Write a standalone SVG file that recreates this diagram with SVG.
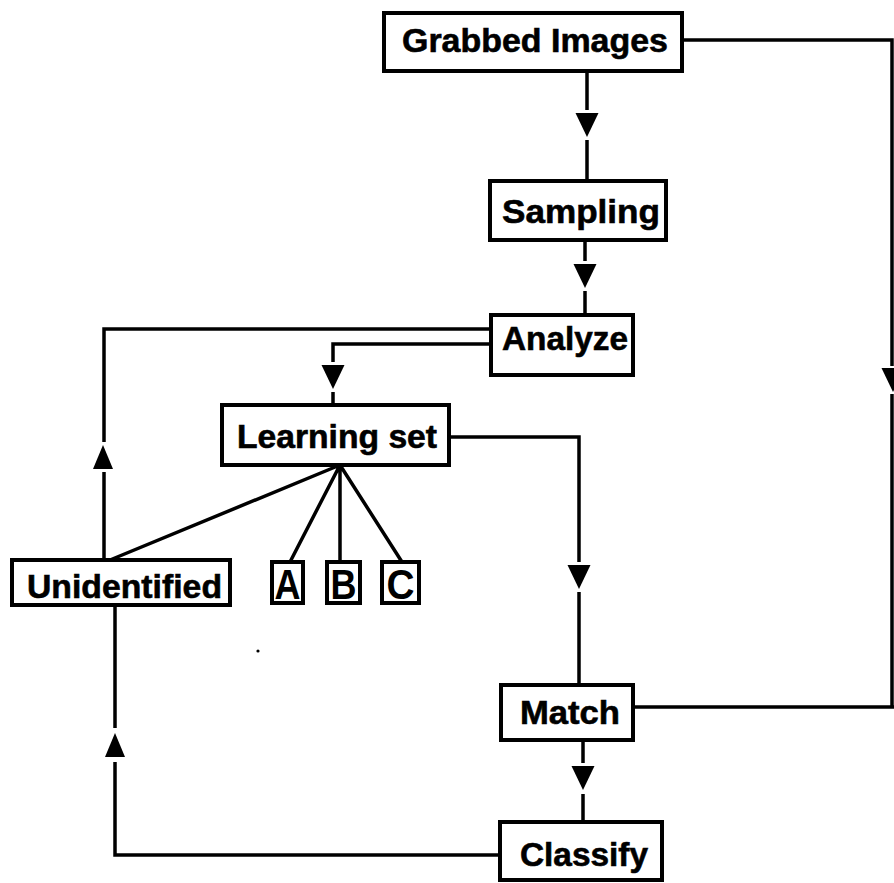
<svg xmlns="http://www.w3.org/2000/svg" xmlns:xlink="http://www.w3.org/1999/xlink" width="894" height="883" viewBox="0 0 894 883">
<style>
.box{fill:#fff;stroke:#000;stroke-width:4}
.lbl{font-family:"Liberation Sans",Arial,Helvetica,sans-serif;font-weight:bold;font-size:33px;text-anchor:middle;fill:#000;stroke:#000;stroke-width:0.6}
.let{font-family:"Liberation Sans",Arial,Helvetica,sans-serif;font-weight:bold;font-size:42px;text-anchor:middle;fill:#000}
.ln{stroke:#000;stroke-width:3.5;fill:none}
.ah{fill:#000}
</style>
<defs>
<path id="down" d="M-11.5,0 L11.5,0 L0,24 Z"/>
<path id="up" d="M0,0 L10,24 L-10,24 Z"/>
</defs>
<rect width="894" height="883" fill="#fff"/>
<g id="connectors">
<path class="ln" d="M587,71 V110 M587,140 V181"/>
<use href="#down" class="ah" x="587" y="113"/>
<path class="ln" d="M585,240 V261 M585,291 V315"/>
<use href="#down" class="ah" x="585" y="264"/>
<path class="ln" d="M491,329 H104 V442 M104,472 V560"/>
<use href="#up" class="ah" x="103" y="445"/>
<path class="ln" d="M491,344 H333 V362 M333,392 V405"/>
<use href="#down" class="ah" x="333" y="365"/>
<path class="ln" d="M449,437 H579 V562 M579,592 V685"/>
<use href="#down" class="ah" x="579" y="565"/>
<path class="ln" d="M340,465 L110,560 M340,465 L290,562 M340,465 L340,562 M340,465 L402,562"/>
<path class="ln" d="M583,740 V763 M583,794 V822"/>
<use href="#down" class="ah" x="583" y="766"/>
<path class="ln" d="M500,855 H115 V762 M115,728 V605"/>
<use href="#up" class="ah" x="115" y="733"/>
<path class="ln" d="M682,40 H892 V366 M892,394 V707 M633,707 H894"/>
<use href="#down" class="ah" x="893" y="368"/>
<circle cx="258" cy="651" r="1.6" fill="#000"/>
</g>
<g id="grabbed">
<rect class="box" x="384" y="13" width="298" height="58"/>
<text class="lbl" x="535" y="52" textLength="266" lengthAdjust="spacingAndGlyphs">Grabbed Images</text>
</g>
<g id="sampling">
<rect class="box" x="490" y="181" width="176" height="59"/>
<text class="lbl" x="581" y="223" textLength="158" lengthAdjust="spacingAndGlyphs">Sampling</text>
</g>
<g id="analyze">
<rect class="box" x="491" y="315" width="142" height="60"/>
<text class="lbl" x="565" y="350" textLength="126" lengthAdjust="spacingAndGlyphs">Analyze</text>
</g>
<g id="learning">
<rect class="box" x="222" y="405" width="227" height="60"/>
<text class="lbl" x="337" y="448" textLength="200" lengthAdjust="spacingAndGlyphs">Learning set</text>
</g>
<g id="unidentified">
<rect class="box" x="12" y="560" width="218" height="45"/>
<text class="lbl" x="124.5" y="598" textLength="195" lengthAdjust="spacingAndGlyphs">Unidentified</text>
</g>
<g id="a">
<rect class="box" x="272" y="562" width="31" height="41"/>
<text class="let" x="287.5" y="599" textLength="26" lengthAdjust="spacingAndGlyphs">A</text>
</g>
<g id="b">
<rect class="box" x="327" y="562" width="33" height="41"/>
<text class="let" x="343.5" y="599" textLength="26" lengthAdjust="spacingAndGlyphs">B</text>
</g>
<g id="c">
<rect class="box" x="382" y="562" width="37" height="41"/>
<text class="let" x="400.5" y="599" textLength="28" lengthAdjust="spacingAndGlyphs">C</text>
</g>
<g id="match">
<rect class="box" x="501" y="685" width="132" height="55"/>
<text class="lbl" x="570" y="724" textLength="100" lengthAdjust="spacingAndGlyphs">Match</text>
</g>
<g id="classify">
<rect class="box" x="500" y="822" width="162" height="58"/>
<text class="lbl" x="584" y="866" textLength="128" lengthAdjust="spacingAndGlyphs">Classify</text>
</g>
</svg>
